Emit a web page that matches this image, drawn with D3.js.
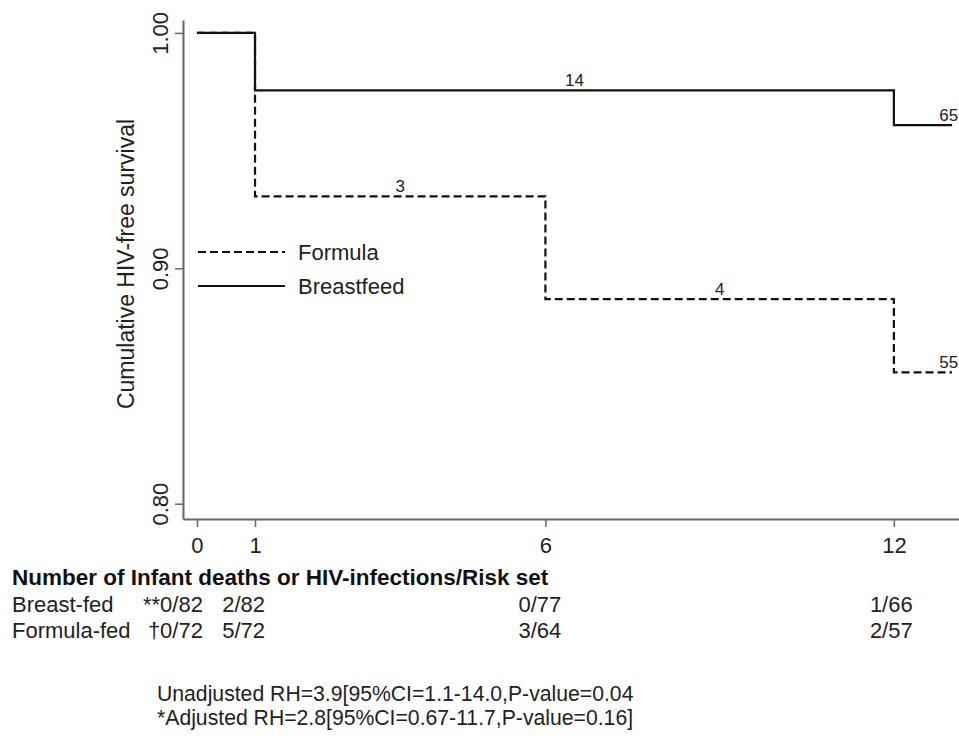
<!DOCTYPE html>
<html>
<head>
<meta charset="utf-8">
<script src="https://cdn.jsdelivr.net/npm/d3@7"></script>
<style>
  body { margin: 0; background: #fff; }
  svg { display: block; font-family: "Liberation Sans", Arial, sans-serif; }
</style>
</head>
<body>
<div id="chart"></div>
<script>
// Kaplan-Meier style step curves (months)
const bfTimes = [0, 1, 12, 13];
const bfSurv = [1.0, 0.9756, 0.9608, 0.9608];
const ffTimes = [0, 1, 6, 12, 13];
const ffSurv = [1.0, 0.9306, 0.8869, 0.8558, 0.8558];

// numbers written along the curves
const bfNotes = [{t: 6.5, s: 0.9756, txt: "14"}, {t: 12.78, s: 0.9608, txt: "65"}];
const ffNotes = [{t: 3.5, s: 0.9306, txt: "3"}, {t: 9.0, s: 0.8869, txt: "4"}, {t: 12.78, s: 0.8558, txt: "55"}];

const xTicks = [0, 1, 6, 12];
const yTicks = [0.80, 0.90, 1.00];

// risk table
const riskTitle = "Number of Infant deaths or HIV-infections/Risk set";
const riskCols = [0, 1, 6, 12];
const bfRisk = ["**0/82", "2/82", "0/77", "1/66"];
const ffRisk = ["\u20200/72", "5/72", "3/64", "2/57"];
const notes = ["Unadjusted RH=3.9[95%CI=1.1-14.0,P-value=0.04",
               "*Adjusted RH=2.8[95%CI=0.67-11.7,P-value=0.16]"];

const width = 959;
const height = 739;
const axisCol = "#666";

const svg = d3.select("#chart").append("svg")
    .attr("width", width)
    .attr("height", height);

const x = d3.scaleLinear().domain([-0.24, 13.5]).range([183, 981]);
const y = d3.scaleLinear().domain([0.7935, 1.0055]).range([519, 20]);

// axes
const yAxis = svg.append("g")
    .attr("transform", "translate(183,0)")
    .call(d3.axisLeft(y).tickValues(yTicks).tickFormat(d3.format(".2f")).tickSize(8).tickSizeOuter(0));
yAxis.select(".domain").attr("stroke", axisCol).attr("stroke-width", 2);
yAxis.selectAll(".tick line").attr("stroke", axisCol).attr("stroke-width", 1.5);
yAxis.selectAll(".tick text")
    .attr("font-size", 22).attr("fill", "#222")
    .attr("transform", "rotate(-90)")
    .attr("x", 0).attr("y", -15).attr("dy", 0)
    .attr("text-anchor", "middle");

const xAxis = svg.append("g")
    .attr("transform", "translate(0,519)")
    .call(d3.axisBottom(x).tickValues(xTicks).tickSize(8).tickSizeOuter(0));
xAxis.select(".domain").attr("stroke", axisCol).attr("stroke-width", 2);
xAxis.selectAll(".tick line").attr("stroke", axisCol).attr("stroke-width", 1.5);
xAxis.selectAll(".tick text")
    .attr("font-size", 22).attr("fill", "#222")
    .attr("y", 34).attr("dy", 0);

svg.append("text")
    .attr("transform", "translate(134,264) rotate(-90)")
    .attr("text-anchor", "middle")
    .attr("font-size", 23)
    .attr("fill", "#222")
    .text("Cumulative HIV-free survival");

// curves
const line = d3.line()
    .x(d => x(d[0]))
    .y(d => y(d[1]))
    .curve(d3.curveStepAfter);

svg.append("path")
    .datum(d3.zip(ffTimes, ffSurv))
    .attr("d", line)
    .attr("fill", "none")
    .attr("stroke", "#111")
    .attr("stroke-width", 2.2)
    .attr("stroke-dasharray", "8,4");

svg.append("path")
    .datum(d3.zip(bfTimes, bfSurv))
    .attr("d", line)
    .attr("fill", "none")
    .attr("stroke", "#111")
    .attr("stroke-width", 2.2);

svg.selectAll(".note")
    .data(bfNotes.concat(ffNotes))
    .enter().append("text")
    .attr("x", d => x(d.t))
    .attr("y", d => y(d.s) - 4)
    .attr("text-anchor", d => d.t > 12 ? "start" : "middle")
    .attr("font-size", 17)
    .attr("fill", "#222")
    .text(d => d.txt);

// legend
const legend = [{name: "Formula", dash: "8,4"}, {name: "Breastfeed", dash: null}];
const lg = svg.append("g").attr("transform", "translate(198,252)");
legend.forEach((d, i) => {
  lg.append("line")
      .attr("x1", 0).attr("x2", 87)
      .attr("y1", i * 34).attr("y2", i * 34)
      .attr("stroke", "#111").attr("stroke-width", 2.2)
      .attr("stroke-dasharray", d.dash);
  lg.append("text")
      .attr("x", 100).attr("y", i * 34 + 8)
      .attr("font-size", 22).attr("fill", "#222")
      .text(d.name);
});

// risk table
svg.append("text")
    .attr("x", 12).attr("y", 585)
    .attr("font-size", 22.5).attr("font-weight", "bold").attr("fill", "#111")
    .text(riskTitle);

const colDx = [6, 10, -27, -24];
const colAnchor = ["end", "end", "start", "start"];
[["Breast-fed", bfRisk, 612], ["Formula-fed", ffRisk, 638]].forEach(row => {
  svg.append("text")
      .attr("x", 12).attr("y", row[2])
      .attr("font-size", 22).attr("fill", "#222")
      .text(row[0]);
  svg.selectAll(null)
      .data(row[1])
      .enter().append("text")
      .attr("x", (d, i) => x(riskCols[i]) + colDx[i])
      .attr("y", row[2])
      .attr("text-anchor", (d, i) => colAnchor[i])
      .attr("font-size", 22).attr("fill", "#222")
      .text(d => d);
});

svg.selectAll(".foot")
    .data(notes)
    .enter().append("text")
    .attr("x", 157)
    .attr("y", (d, i) => 701 + i * 24)
    .attr("font-size", 21.2).attr("fill", "#222")
    .text(d => d);
</script>
</body>
</html>
